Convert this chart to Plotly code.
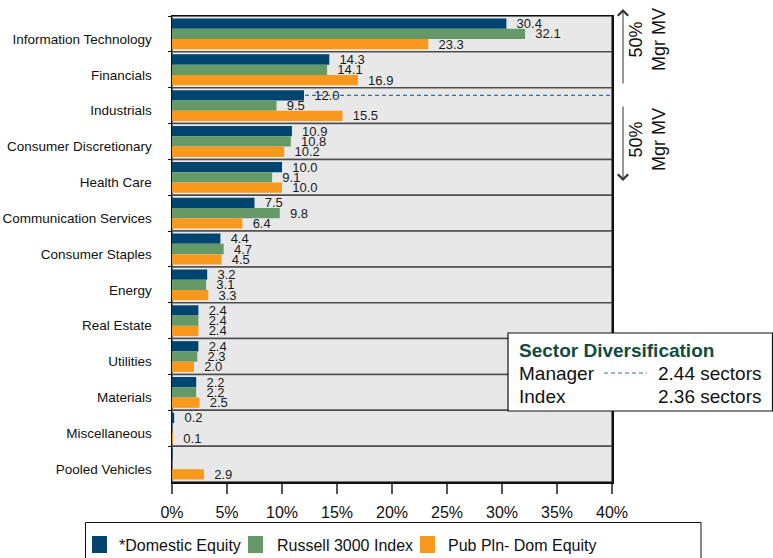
import plotly.graph_objects as go

categories = ["Information Technology", "Financials", "Industrials", "Consumer Discretionary",
              "Health Care", "Communication Services", "Consumer Staples", "Energy",
              "Real Estate", "Utilities", "Materials", "Miscellaneous", "Pooled Vehicles"]
domestic_equity = [30.4, 14.3, 12.0, 10.9, 10.0, 7.5, 4.4, 3.2, 2.4, 2.4, 2.2, 0.2, 0.05]
russell_3000 = [32.1, 14.1, 9.5, 10.8, 9.1, 9.8, 4.7, 3.1, 2.4, 2.3, 2.2, None, None]
pub_pln_dom = [23.3, 16.9, 15.5, 10.2, 10.0, 6.4, 4.5, 3.3, 2.4, 2.0, 2.5, 0.1, 2.9]
series_names = ["*Domestic Equity", "Russell 3000 Index", "Pub Pln- Dom Equity"]
x_ticks = [0, 5, 10, 15, 20, 25, 30, 35, 40]
div_title = "Sector Diversification"
div_rows = [("Manager", "2.44 sectors"), ("Index", "2.36 sectors")]
mv_label = "50%<br>Mgr MV"
split_category = "Industrials"

colors = ["#004570", "#659a68", "#f8981d"]
FONT = "Liberation Sans, Arial, sans-serif"
W, H = 773, 558
L, R, T, B = 172, 612, 16, 482
BARGAP = 0.14


def PX(px):
    return (px - L) / (R - L)


def PY(py):
    return (B - py) / (B - T)


def fmt(vals):
    return ["\u00a0\u00a0" + f"{v:.1f}" if (v is not None and v >= 0.1) else "" for v in vals]


fig = go.Figure()
for name, vals, col in zip(series_names, [domestic_equity, russell_3000, pub_pln_dom], colors):
    fig.add_trace(go.Bar(
        name=name, y=categories, x=vals, orientation="h",
        marker=dict(color=col, line=dict(width=0)),
        text=fmt(vals), texttemplate="%{text}", textposition="outside",
        textangle=0, constraintext="none", cliponaxis=False,
        textfont=dict(family=FONT, size=13, color="#1a1a1a"),
        showlegend=False, hoverinfo="skip",
    ))

shapes = []
n = len(categories)
for i in range(n):
    shapes.append(dict(type="rect", xref="x", yref="y", x0=0, x1=40, y0=i - 0.5, y1=i + 0.5,
                       fillcolor="#e8e8e8", line=dict(color="#4d4d4d", width=1.5), layer="below"))
# dashed 50% split line at the manager bar of the split category
yi = categories.index(split_category) - (1 - BARGAP) / 3
shapes.append(dict(type="line", xref="x", yref="y", x0=0, x1=40, y0=yi, y1=yi,
                   line=dict(color="#3b6c96", width=1.2, dash="4px,3px"), layer="below"))

# sector diversification box
shapes.append(dict(type="rect", xref="paper", yref="paper", x0=PX(508), x1=PX(772.5),
                   y0=PY(411), y1=PY(333), fillcolor="white", line=dict(color="#111", width=1.2)))
shapes.append(dict(type="line", xref="paper", yref="paper", x0=PX(604), x1=PX(647),
                   y0=PY(373), y1=PY(373), line=dict(color="#3b6c96", width=1.2, dash="4px,3px")))

# legend box and swatches
shapes.append(dict(type="rect", xref="paper", yref="paper", x0=PX(85.5), x1=PX(701),
                   y0=PY(575), y1=PY(522.5), fillcolor="white", line=dict(color="#111", width=1)))
sw_x = [92, 248, 420]
tx_x = [117, 275, 446]
for sx, col in zip(sw_x, colors):
    shapes.append(dict(type="rect", xref="paper", yref="paper", x0=PX(sx), x1=PX(sx + 15),
                       y0=PY(553), y1=PY(536), fillcolor=col, line=dict(width=0)))

annotations = []
for tx, name in zip(tx_x, series_names):
    annotations.append(dict(xref="paper", yref="paper", x=PX(tx), y=PY(545), text=name,
                            showarrow=False, xanchor="left", yanchor="middle",
                            font=dict(family=FONT, size=16, color="#111")))

annotations.append(dict(xref="paper", yref="paper", x=PX(517), y=PY(350), text="<b>" + div_title + "</b>",
                        showarrow=False, xanchor="left", yanchor="middle",
                        font=dict(family=FONT, size=19, color="#104c3f")))
for (lab, val), py in zip(div_rows, [373, 396]):
    annotations.append(dict(xref="paper", yref="paper", x=PX(517), y=PY(py), text=lab,
                            showarrow=False, xanchor="left", yanchor="middle",
                            font=dict(family=FONT, size=19, color="#111")))
    annotations.append(dict(xref="paper", yref="paper", x=PX(656), y=PY(py), text=val,
                            showarrow=False, xanchor="left", yanchor="middle",
                            font=dict(family=FONT, size=19, color="#111")))

# 50% Mgr MV arrows
annotations.append(dict(xref="paper", yref="paper", x=PX(623), y=PY(9), ax=0, ay=76, text="",
                        showarrow=True, arrowhead=4, arrowsize=2, arrowwidth=1, arrowcolor="#333"))
annotations.append(dict(xref="paper", yref="paper", x=PX(623), y=PY(181), ax=0, ay=-76, text="",
                        showarrow=True, arrowhead=4, arrowsize=2, arrowwidth=1, arrowcolor="#333"))
for py in [40, 140]:
    annotations.append(dict(xref="paper", yref="paper", x=PX(647), y=PY(py), text=mv_label,
                            showarrow=False, textangle=-90, xanchor="center", yanchor="middle",
                            font=dict(family=FONT, size=18, color="#111")))

fig.update_layout(
    template="none",
    width=W, height=H,
    margin=dict(l=L, r=W - R, t=T, b=H - B, pad=0, autoexpand=False),
    barmode="group", bargap=BARGAP, bargroupgap=0,
    paper_bgcolor="white", plot_bgcolor="#e8e8e8",
    font=dict(family=FONT, color="#111"),
    shapes=shapes, annotations=annotations,
    xaxis=dict(range=[0, 40], tickvals=x_ticks, ticktext=[f"{v}%" for v in x_ticks],
               automargin=False,
               showgrid=False, zeroline=False, showline=True, linecolor="#111", linewidth=1.5,
               mirror=True, ticks="outside", ticklen=10, tickwidth=1.5, tickcolor="#555",
               tickfont=dict(family=FONT, size=16, color="#111"), ticklabelstandoff=5),
    yaxis=dict(categoryorder="array", categoryarray=categories, range=[n - 0.5, -0.5],
               automargin=False,
               showgrid=False, zeroline=False, showline=True, linecolor="#111", linewidth=1.5,
               mirror=True, ticks="outside", tickson="boundaries", ticklen=3, tickcolor="#111",
               tickfont=dict(family=FONT, size=13.5, color="#111"), ticklabelstandoff=16,
               ticklabelshift=-5),
)

fig.write_html("out.html", config={"staticPlot": True},
               post_script="document.body.style.margin='0';document.body.style.overflow='hidden';")
